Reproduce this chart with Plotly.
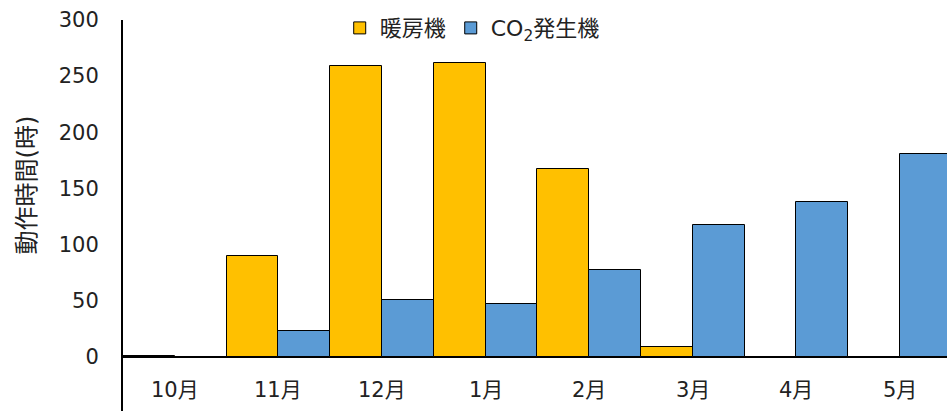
import plotly.graph_objects as go

# Monthly operating hours of the heater and the CO2 generator
months = ["10月", "11月", "12月", "1月", "2月", "3月", "4月", "5月"]
heater_hours = [0.6, 90, 259, 262, 167, 9, 0, 0]
co2_hours = [0, 23, 51, 47, 77, 117, 138, 181]
y_ticks = [0, 50, 100, 150, 200, 250, 300]

FONT = "DejaVu Sans, Noto Sans CJK JP, sans-serif"

fig = go.Figure()
fig.add_trace(go.Bar(
    x=months, y=heater_hours, name="暖房機",
    marker=dict(color="#FFC000", line=dict(color="#000000", width=1)),
))
fig.add_trace(go.Bar(
    x=months, y=co2_hours, name="CO<sub>2</sub>発生機",
    marker=dict(color="#5B9BD5", line=dict(color="#000000", width=1)),
))

# month names sit just under the zero line
for m in months:
    fig.add_annotation(x=m, y=-30, text=m, showarrow=False,
                       xref="x", yref="y",
                       font=dict(family=FONT, size=21, color="#222222"))

# vertical axis title
fig.add_annotation(x=-0.116, y=0.578, xref="paper", yref="paper",
                   text="動作時間(時)", textangle=-90, showarrow=False,
                   xanchor="center", yanchor="middle",
                   font=dict(family=FONT, size=24, color="#222222"))

fig.update_layout(
    width=947, height=411,
    margin=dict(l=123, r=0, t=20, b=0),
    paper_bgcolor="white", plot_bgcolor="white",
    barmode="group", bargap=0, bargroupgap=0,
    font=dict(family=FONT, size=21, color="#222222"),
    showlegend=True,
    legend=dict(orientation="h", x=0.263, y=1.033, xanchor="left", yanchor="top",
                bgcolor="rgba(0,0,0,0)", font=dict(size=22),
                itemwidth=30, traceorder="normal"),
    xaxis=dict(range=[-0.5, 7.454], showticklabels=False, ticks="",
               showline=False, showgrid=False, zeroline=False,
               type="category"),
    yaxis=dict(range=[-48.3, 300], tickvals=y_ticks, ticks="",
               showgrid=False, zeroline=True, zerolinecolor="#000000",
               zerolinewidth=2, showline=True, linecolor="#000000",
               linewidth=2, ticklabelstandoff=18,
               tickfont=dict(size=21)),
)

fig.write_html("out.html")
